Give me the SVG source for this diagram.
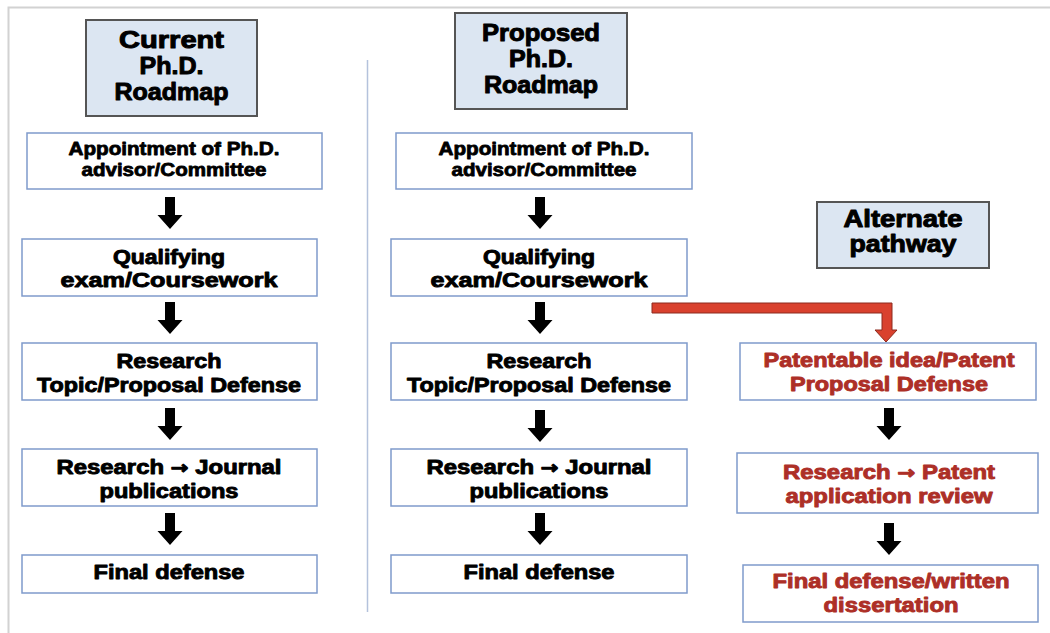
<svg xmlns="http://www.w3.org/2000/svg" width="1050" height="633" viewBox="0 0 1050 633">
<style>
  text { font-family: "Liberation Sans", Arial, sans-serif; font-weight: bold; text-anchor: middle; stroke-linejoin: round; }
  .t { font-size: 24px; fill: #000; stroke: #000; stroke-width: 1; }
  .b { font-size: 20px; fill: #000; stroke: #000; stroke-width: 0.9; }
  .s { font-size: 18.5px; fill: #000; stroke: #000; stroke-width: 0.8; }
  .r { font-size: 20px; fill: #ad2f27; stroke: #ad2f27; stroke-width: 0.9; }
  .ar { font-family: "DejaVu Sans", sans-serif; font-size: 18px; }
  .title { fill: #dce6f2; stroke: #555; stroke-width: 2; }
  .box { fill: #fff; stroke: #7f9acb; stroke-width: 1.5; }
  .arr { fill: #000; }
</style>
<defs>
  <path id="dn" d="M-5,0 H5 V18 H12.5 L0,32 L-12.5,18 H-5 Z"/>
</defs>
<rect width="1050" height="633" fill="#fff"/>
<path d="M8.5,633 V7.5 H1050" fill="none" stroke="#d2d2d2" stroke-width="2"/>
<line x1="367.5" y1="60" x2="367.5" y2="612" stroke="#b4c2dc" stroke-width="1.5"/>

<g id="current-title">
  <rect class="title" x="86" y="20" width="171" height="96"/>
  <text class="t" x="171.5" y="48" textLength="105" lengthAdjust="spacingAndGlyphs">Current</text>
  <text class="t" x="171.5" y="74" textLength="64" lengthAdjust="spacingAndGlyphs">Ph.D.</text>
  <text class="t" x="171.5" y="100" textLength="114" lengthAdjust="spacingAndGlyphs">Roadmap</text>
</g>
<g id="c-appointment">
  <rect class="box" x="27" y="133" width="295" height="56"/>
  <text class="s" x="174" y="155" textLength="211" lengthAdjust="spacingAndGlyphs">Appointment of Ph.D.</text>
  <text class="s" x="174" y="176" textLength="185" lengthAdjust="spacingAndGlyphs">advisor/Committee</text>
</g>
<g id="c-qualifying">
  <rect class="box" x="22" y="239" width="295" height="57"/>
  <text class="b" x="169" y="264" textLength="112" lengthAdjust="spacingAndGlyphs">Qualifying</text>
  <text class="b" x="169" y="287" textLength="217" lengthAdjust="spacingAndGlyphs">exam/Coursework</text>
</g>
<g id="c-research">
  <rect class="box" x="22" y="343" width="295" height="57"/>
  <text class="b" x="169" y="368" textLength="105" lengthAdjust="spacingAndGlyphs">Research</text>
  <text class="b" x="169" y="392" textLength="264" lengthAdjust="spacingAndGlyphs">Topic/Proposal Defense</text>
</g>
<g id="c-journal">
  <rect class="box" x="22" y="449" width="295" height="57"/>
  <text class="b" x="169" y="474" textLength="225" lengthAdjust="spacingAndGlyphs">Research <tspan class="ar">→</tspan> Journal</text>
  <text class="b" x="169" y="498" textLength="139" lengthAdjust="spacingAndGlyphs">publications</text>
</g>
<g id="c-final">
  <rect class="box" x="22" y="555" width="295" height="38"/>
  <text class="b" x="169" y="579" textLength="151" lengthAdjust="spacingAndGlyphs">Final defense</text>
</g>

<g id="proposed-title">
  <rect class="title" x="455" y="13" width="172" height="96"/>
  <text class="t" x="541" y="41" textLength="118" lengthAdjust="spacingAndGlyphs">Proposed</text>
  <text class="t" x="541" y="67" textLength="64" lengthAdjust="spacingAndGlyphs">Ph.D.</text>
  <text class="t" x="541" y="93" textLength="114" lengthAdjust="spacingAndGlyphs">Roadmap</text>
</g>
<g id="p-appointment">
  <rect class="box" x="396" y="133" width="296" height="56"/>
  <text class="s" x="544" y="155" textLength="211" lengthAdjust="spacingAndGlyphs">Appointment of Ph.D.</text>
  <text class="s" x="544" y="176" textLength="185" lengthAdjust="spacingAndGlyphs">advisor/Committee</text>
</g>
<g id="p-qualifying">
  <rect class="box" x="391" y="239" width="296" height="57"/>
  <text class="b" x="539" y="264" textLength="112" lengthAdjust="spacingAndGlyphs">Qualifying</text>
  <text class="b" x="539" y="287" textLength="217" lengthAdjust="spacingAndGlyphs">exam/Coursework</text>
</g>
<g id="p-research">
  <rect class="box" x="391" y="343" width="296" height="57"/>
  <text class="b" x="539" y="368" textLength="105" lengthAdjust="spacingAndGlyphs">Research</text>
  <text class="b" x="539" y="392" textLength="264" lengthAdjust="spacingAndGlyphs">Topic/Proposal Defense</text>
</g>
<g id="p-journal">
  <rect class="box" x="391" y="449" width="296" height="57"/>
  <text class="b" x="539" y="474" textLength="225" lengthAdjust="spacingAndGlyphs">Research <tspan class="ar">→</tspan> Journal</text>
  <text class="b" x="539" y="498" textLength="139" lengthAdjust="spacingAndGlyphs">publications</text>
</g>
<g id="p-final">
  <rect class="box" x="391" y="555" width="296" height="38"/>
  <text class="b" x="539" y="579" textLength="151" lengthAdjust="spacingAndGlyphs">Final defense</text>
</g>

<g id="alternate-title">
  <rect class="title" x="817" y="202" width="172" height="66"/>
  <text class="t" x="903" y="227" textLength="119" lengthAdjust="spacingAndGlyphs">Alternate</text>
  <text class="t" x="903" y="252" textLength="107" lengthAdjust="spacingAndGlyphs">pathway</text>
</g>
<g id="a-patentable">
  <rect class="box" x="740" y="343" width="296" height="57"/>
  <text class="r" x="889" y="367" textLength="251" lengthAdjust="spacingAndGlyphs">Patentable idea/Patent</text>
  <text class="r" x="889" y="391" textLength="198" lengthAdjust="spacingAndGlyphs">Proposal Defense</text>
</g>
<g id="a-review">
  <rect class="box" x="737" y="453" width="301" height="60"/>
  <text class="r" x="889" y="479" textLength="212" lengthAdjust="spacingAndGlyphs">Research <tspan class="ar">→</tspan> Patent</text>
  <text class="r" x="889" y="503" textLength="207" lengthAdjust="spacingAndGlyphs">application review</text>
</g>
<g id="a-final">
  <rect class="box" x="743" y="565" width="295" height="57"/>
  <text class="r" x="891" y="588" textLength="237" lengthAdjust="spacingAndGlyphs">Final defense/written</text>
  <text class="r" x="891" y="612" textLength="135" lengthAdjust="spacingAndGlyphs">dissertation</text>
</g>

<g id="connectors">
  <use href="#dn" class="arr" x="170" y="197"/>
  <use href="#dn" class="arr" x="170" y="302"/>
  <use href="#dn" class="arr" x="170" y="408"/>
  <use href="#dn" class="arr" x="170" y="513"/>
  <use href="#dn" class="arr" x="540" y="197"/>
  <use href="#dn" class="arr" x="540" y="302"/>
  <use href="#dn" class="arr" x="540" y="410"/>
  <use href="#dn" class="arr" x="540" y="513"/>
  <use href="#dn" class="arr" x="889" y="408"/>
  <use href="#dn" class="arr" x="889" y="523"/>
  <path d="M652,303 H892 V330 H897 L886,342 L875,330 H882 V313 H652 Z" fill="#d9412e" stroke="#8c2a1e" stroke-width="1"/>
</g>
</svg>
